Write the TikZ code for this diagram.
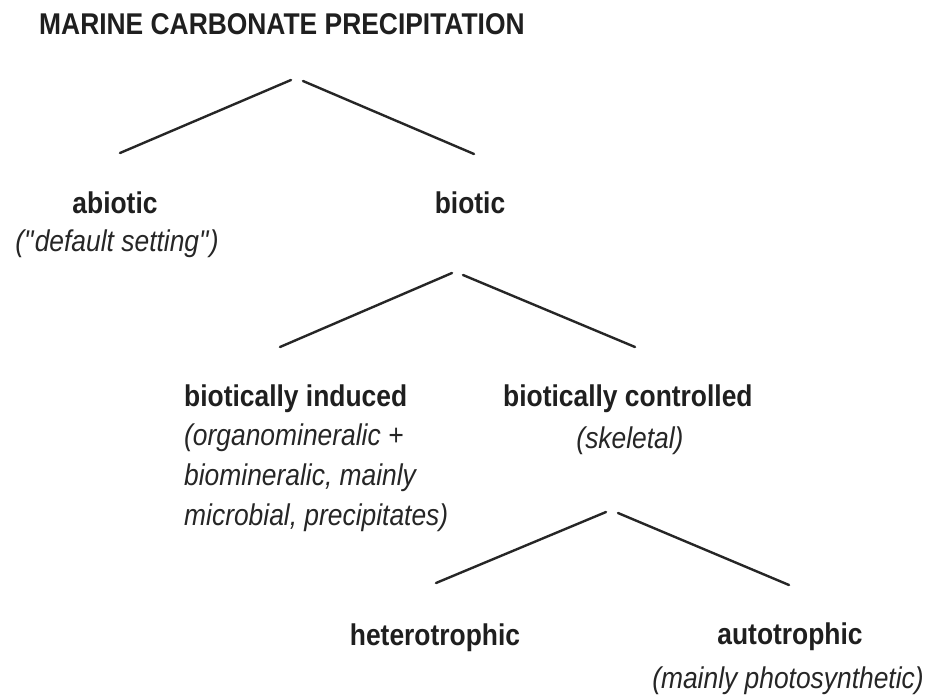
\documentclass[tikz,border=0pt]{standalone}
\usepackage{fontspec}
\setmainfont{Liberation Sans}[FakeStretch=0.88]
\usetikzlibrary{positioning}

\begin{document}
\begin{tikzpicture}[x=1pt, y=-1pt, line width=2.4pt,
  lbl/.style={font=\fontsize{30}{40}\selectfont\bfseries, text=black!88, inner sep=0pt},
  note/.style={font=\fontsize{30}{40}\selectfont\itshape, text=black!85, inner sep=0pt},
  branch/.style={draw=black!85, line cap=round}]

  \useasboundingbox[fill=white] (0,0) rectangle (936,698);

  % labels
  \node[lbl, anchor=base west] (title) at (38,35) {MARINE CARBONATE PRECIPITATION};

  \node[lbl, anchor=base] (abiotic) at (115,213) {abiotic};
  \node[note, anchor=base] (abioticnote) at (117,251) {(\textquotedbl default setting\textquotedbl)};
  \node[lbl, anchor=base] (biotic) at (470,213) {biotic};

  \node[lbl, anchor=base west] (induced) at (183,406) {biotically induced};
  \node[note, anchor=north west, align=left] (inducednote) at (183,423)
    {(organomineralic +\\biomineralic, mainly\\microbial, precipitates)};
  \node[lbl, anchor=base west] (controlled) at (502,406) {biotically controlled};
  \node[note, anchor=base] (controllednote) at (630,448) {(skeletal)};

  \node[lbl, anchor=base] (hetero) at (435,645) {heterotrophic};
  \node[lbl, anchor=base] (auto) at (790,644) {autotrophic};
  \node[note, anchor=base] (autonote) at (788,688) {(mainly photosynthetic)};

  % branch ends
  \coordinate (p1l) at (291,80);  \coordinate (p1r) at (303,81);
  \coordinate (c1a) at (120,153); \coordinate (c1b) at (474,154);
  \coordinate (p2l) at (452,273); \coordinate (p2r) at (463,275);
  \coordinate (c2a) at (280,347); \coordinate (c2b) at (635,347);
  \coordinate (p3l) at (606,512); \coordinate (p3r) at (618,513);
  \coordinate (c3a) at (436,583); \coordinate (c3b) at (789,585);

  \foreach \from/\to in {p1l/c1a, p1r/c1b, p2l/c2a, p2r/c2b, p3l/c3a, p3r/c3b}
    \draw[branch] (\from) -- (\to);

\end{tikzpicture}
\end{document}
